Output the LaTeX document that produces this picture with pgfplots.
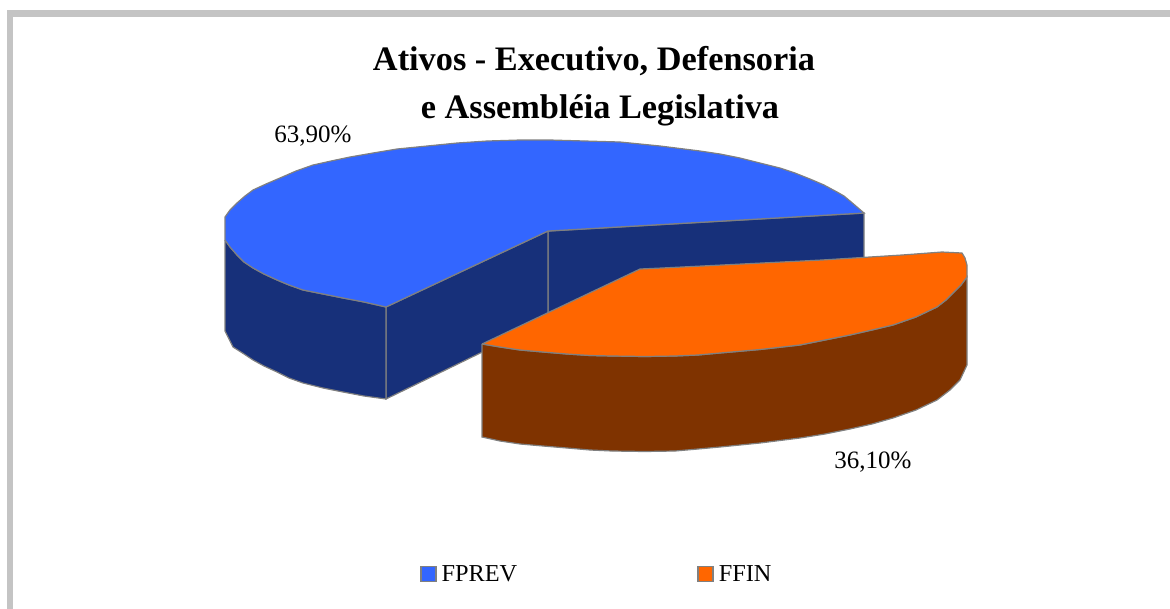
\documentclass[border=0pt]{standalone}
\usepackage{pgfplots}
\usepackage{fontspec}
\setmainfont{Liberation Serif}
\pgfplotsset{compat=1.18}
\definecolor{topblue}{HTML}{3366FF}
\definecolor{sideblue}{HTML}{17307A}
\definecolor{toporange}{HTML}{FF6600}
\definecolor{sidebrown}{HTML}{7F3300}
\definecolor{edge}{HTML}{808080}
\definecolor{framegray}{HTML}{C4C4C4}
\begin{document}
\begin{tikzpicture}
\useasboundingbox (0,0) rectangle (1170pt,608pt);
\begin{axis}[
  scale only axis, width=1170pt, height=608pt,
  xmin=0, xmax=1170, ymin=0, ymax=608, y dir=reverse,
  hide axis, clip=true,
  legend columns=2,
  legend style={draw=none, fill=none, at={(axis cs:420,574)}, anchor=west,
    font=\fontsize{24.3}{27}\selectfont, inner sep=0pt, outer sep=0pt,
    /tikz/every even column/.append style={column sep=175pt},
    nodes={inner xsep=5pt, inner ysep=0pt}},
  legend image code/.code={\draw[#1, line width=1.6pt] (0pt,-7.5pt) rectangle (15pt,7.5pt);},
]
% frame
\addplot[forget plot, framegray, line width=6.5pt] coordinates {(10,620) (10,13.5) (1180,13.5)};
% blue inner faces
\addplot[forget plot, fill=sideblue, draw=edge, line width=1.4pt] coordinates {(548,231) (864,213) (864,300) (548,320) (548,231)};
\addplot[forget plot, fill=sideblue, draw=edge, line width=1.2pt] coordinates {(386,307) (548,231) (548,320) (386,399) (386,307)};
% blue outer side
\addplot[forget plot, fill=sideblue, draw=edge, line width=1.2pt] coordinates {(225,240) (225,331) (233,347) (244,354) (253,360) (264,366) (277,372) (289,378) (303,383) (323,388) (343,392) (364,396) (386,399) (386,307) (364,302) (343,298) (323,294) (303,290) (289,285) (277,280) (264,274) (253,268) (244,262) (237,255) (230,247) (225,240)};
% orange-slice sides
\addplot[forget plot, fill=sidebrown, draw=edge, line width=1.2pt] coordinates {(482,344) (482,437) (500,441) (520,444) (543,446) (567,448) (590,450) (612,451) (645,451.5) (675,451) (698,449) (720,447) (760,443) (800,438) (825,434) (850,429) (872,424) (893,418) (916,410) (937,400) (950,390) (960,380) (967,365) (967,277) (961,285) (953,293) (946,300) (937,307) (916,317) (893,325) (872,330) (850,335) (825,340) (800,345) (760,349.5) (720,353) (698,355) (675,356) (645,356.5) (612,356) (590,355.5) (567,354) (543,352) (520,350) (500,347) (482,344)};
% tops, which carry the legend
\addplot[fill=topblue, draw=edge, line width=1.2pt] coordinates {(548,231) (386,307) (364,302) (343,298) (323,294) (303,290) (289,285) (277,280) (264,274) (253,268) (244,262) (237,255) (230,247) (225,240) (225,217) (230,210) (237,203) (245,196) (253,190) (266,184) (280,178) (296,171) (313,165) (331,161) (350,157) (373,153) (397,149) (427,146) (457,143) (487,141) (520,140) (550,140) (585,141) (620,142) (660,146) (700,151) (720,154) (740,158) (760,163) (780,168) (795,173) (810,179) (824,185) (837,192) (844,196) (850,201) (857,207) (864,213) (548,231)};
\addlegendentry{FPREV}
\addplot[fill=toporange, draw=edge, line width=1.2pt] coordinates {(482,344) (500,347) (520,350) (543,352) (567,354) (590,355.5) (612,356) (645,356.5) (675,356) (698,355) (720,353) (760,349.5) (800,345) (825,340) (850,335) (872,330) (893,325) (916,317) (937,307) (946,300) (953,293) (961,285) (967,277) (967,265) (965,258) (962,253) (942,252) (902,255) (822,260) (742,264) (662,268) (640,269) (482,344)};
\addlegendentry{FFIN}
% text
\node[font=\fontsize{34.3}{37}\selectfont\bfseries, anchor=center] at (axis cs:594,61) {Ativos - Executivo, Defensoria};
\node[font=\fontsize{34.3}{37}\selectfont\bfseries, anchor=center] at (axis cs:600,110) {e Assembléia Legislativa};
\node[font=\fontsize{25}{28}\selectfont, anchor=center] at (axis cs:313,136) {63,90\%};
\node[font=\fontsize{25}{28}\selectfont, anchor=center] at (axis cs:873,462) {36,10\%};
\end{axis}
\end{tikzpicture}
\end{document}
